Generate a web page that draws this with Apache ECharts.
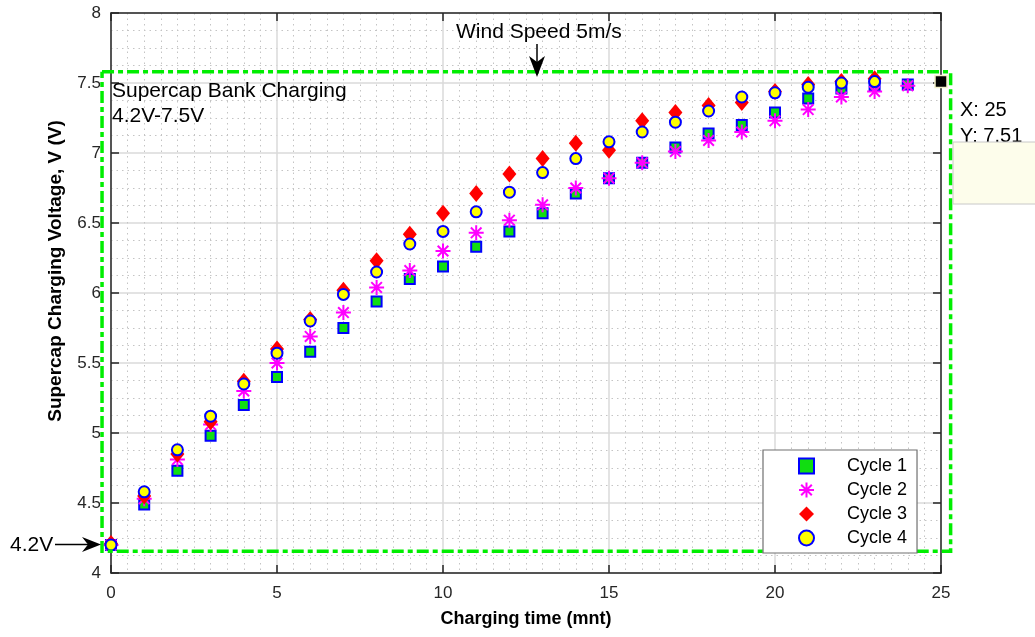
<!DOCTYPE html>
<html><head><meta charset="utf-8">
<script src="https://cdn.jsdelivr.net/npm/echarts@6/dist/echarts.min.js"></script>
<style>html,body{margin:0;padding:0;background:#fff}#c{width:1035px;height:637px}</style>
</head><body><div id="c"></div>
<script>
// ---- data ----
const timeMnt = [0,1,2,3,4,5,6,7,8,9,10,11,12,13,14,15,16,17,18,19,20,21,22,23,24];
const cycle1 = [4.20,4.49,4.73,4.98,5.20,5.40,5.58,5.75,5.94,6.10,6.19,6.33,6.44,6.57,6.71,6.82,6.93,7.04,7.14,7.20,7.29,7.39,7.46,7.48,7.49];
const cycle2 = [4.20,4.53,4.81,5.06,5.30,5.50,5.69,5.86,6.04,6.16,6.30,6.43,6.52,6.63,6.75,6.82,6.93,7.01,7.09,7.15,7.23,7.31,7.40,7.44,7.48];
const cycle3 = [4.21,4.55,4.85,5.08,5.37,5.60,5.81,6.02,6.23,6.42,6.57,6.71,6.85,6.96,7.07,7.02,7.23,7.29,7.34,7.36,7.44,7.49,7.51,7.53];
const cycle4 = [4.20,4.58,4.88,5.12,5.35,5.57,5.80,5.99,6.15,6.35,6.44,6.58,6.72,6.86,6.96,7.08,7.15,7.22,7.30,7.40,7.43,7.47,7.50,7.51];
const seriesNames = ['Cycle 1','Cycle 2','Cycle 3','Cycle 4'];
const dataTipPoint = [25, 7.51];
const boxX = [-0.27, 25.29, 25.29, -0.27, -0.27];
const boxY = [7.58, 7.58, 4.155, 4.155, 7.58];
const xTickMin = 0, xTickMax = 25, xTickStep = 5;
const yTickMin = 4, yTickMax = 8, yTickStep = 0.5;

const pair = (xs, ys) => ys.map((v, i) => [xs[i], v]);
const FONT = '"Liberation Sans", Arial, Helvetica, sans-serif';
const AX = '#262626';
const asterisk = 'path://M0,-8L0,8M-8,0L8,0M-5.66,-5.66L5.66,5.66M-5.66,5.66L5.66,-5.66';

const chart = echarts.init(document.getElementById('c'), null, {renderer: 'canvas'});
const axisCommon = {
  axisLine: {show: true, onZero: false, lineStyle: {color: AX, width: 1.5}},
  axisTick: {show: true, inside: true, length: 8, lineStyle: {color: AX, width: 1.5}},
};
const staticGraphics = [
  {type: 'text', x: 456, y: 32, z: 20, style: {text: 'Wind Speed 5m/s', font: '21px ' + FONT, fill: '#000', verticalAlign: 'middle'}},
  {type: 'line', z: 20, shape: {x1: 537, y1: 44, x2: 537, y2: 66}, style: {stroke: '#000', lineWidth: 1.5}},
  {type: 'polygon', z: 20, shape: {points: [[537, 77], [529, 56], [537, 62], [545, 56]]}, style: {fill: '#000'}},
  {type: 'text', x: 112, y: 78.5, z: 20, style: {text: 'Supercap Bank Charging\n4.2V-7.5V', font: '21px ' + FONT, lineHeight: 25, fill: '#000', verticalAlign: 'top'}},
  {type: 'text', x: 10, y: 545, z: 20, style: {text: '4.2V', font: '21px ' + FONT, fill: '#000', verticalAlign: 'middle'}},
  {type: 'line', z: 20, shape: {x1: 55, y1: 544.5, x2: 90, y2: 544.5}, style: {stroke: '#000', lineWidth: 1.5}},
  {type: 'polygon', z: 20, shape: {points: [[101, 544.5], [82, 537], [88, 544.5], [82, 552]]}, style: {fill: '#000'}},
  {type: 'text', x: 960, y: 110, z: 20, style: {text: 'X: 25', font: '20px ' + FONT, fill: '#000', verticalAlign: 'middle'}},
  {type: 'text', x: 960, y: 136, z: 20, style: {text: 'Y: 7.51', font: '20px ' + FONT, fill: '#000', verticalAlign: 'middle'}},
  {type: 'rect', z: 21, shape: {x: 953, y: 142, width: 90, height: 62}, style: {fill: '#fdfdeb', stroke: '#c8c8c8', lineWidth: 1}}
];
chart.setOption({
  animation: false,
  backgroundColor: '#fff',
  grid: {left: 111, right: 94, top: 13, bottom: 64},
  xAxis: [{
    type: 'value', min: xTickMin, max: xTickMax, interval: xTickStep,
    ...axisCommon,
    axisLabel: {color: AX, fontSize: 17, fontFamily: FONT, margin: 12},
    splitLine: {show: true, lineStyle: {color: '#dadada', width: 1.5}},
    minorTick: {show: false, splitNumber: 10},
    minorSplitLine: {show: true, lineStyle: {color: '#c4c4c4', width: 1, type: [1.5, 4]}},
    name: 'Charging time (mnt)', nameLocation: 'middle', nameGap: 37,
    nameTextStyle: {color: '#000', fontSize: 18, fontWeight: 'bold', fontFamily: FONT}
  }, {
    type: 'value', position: 'top', min: xTickMin, max: xTickMax, interval: xTickStep,
    ...axisCommon, axisLabel: {show: false}, splitLine: {show: false}
  }],
  yAxis: [{
    type: 'value', min: yTickMin, max: yTickMax, interval: yTickStep,
    ...axisCommon,
    axisLabel: {color: AX, fontSize: 17, fontFamily: FONT, margin: 10},
    splitLine: {show: true, lineStyle: {color: '#dadada', width: 1.5}},
    minorTick: {show: false, splitNumber: 4},
    minorSplitLine: {show: true, lineStyle: {color: '#c4c4c4', width: 1, type: [1.5, 4]}},
    name: 'Supercap Charging Voltage, V (V)', nameLocation: 'middle', nameGap: 46, nameRotate: 90,
    nameTextStyle: {color: '#000', fontSize: 19, fontWeight: 'bold', fontFamily: FONT, padding: [0, 0, 0, 44]}
  }, {
    type: 'value', position: 'right', min: yTickMin, max: yTickMax, interval: yTickStep,
    ...axisCommon, axisLabel: {show: false}, splitLine: {show: false}
  }],
  legend: {
    orient: 'vertical', left: 763, top: 450,
    data: seriesNames,
    itemWidth: 15, itemHeight: 15, itemGap: 6,
    padding: [7, 10, 6, 35],
    backgroundColor: '#fff', borderColor: '#707070', borderWidth: 1.2, borderRadius: 0,
    textStyle: {color: '#000', fontSize: 18, fontFamily: FONT, padding: [0, 0, 0, 28]}
  },
  series: [
    {type: 'scatter', name: seriesNames[0], data: pair(timeMnt, cycle1), symbol: 'rect', symbolSize: 10,
     itemStyle: {color: '#11dd11', borderColor: '#0000ff', borderWidth: 2, opacity: 1}},
    {type: 'scatter', name: seriesNames[1], data: pair(timeMnt, cycle2), symbol: asterisk, symbolSize: 15,
     itemStyle: {color: '#ff00ff', borderColor: '#ff00ff', borderWidth: 2, opacity: 1}},
    {type: 'scatter', name: seriesNames[2], data: pair(timeMnt, cycle3), symbol: 'diamond', symbolSize: [14, 17],
     itemStyle: {color: '#ff0000', opacity: 1}},
    {type: 'scatter', name: seriesNames[3], data: pair(timeMnt, cycle4), symbol: 'circle', symbolSize: 11,
     itemStyle: {color: '#ffff00', borderColor: '#0000ff', borderWidth: 2, opacity: 1}},
    {type: 'scatter', name: 'datatip', data: [dataTipPoint], symbol: 'rect', symbolSize: 12, clip: false, z: 5,
     itemStyle: {color: '#000', borderColor: '#f2f0c8', borderWidth: 1.5, opacity: 1}}
  ],
  graphic: staticGraphics
});
// dashed selection box, positioned through the chart's own coordinate conversion
const boxPts = boxX.map((x, i) => chart.convertToPixel({gridIndex: 0}, [x, boxY[i]]));
chart.setOption({
  graphic: staticGraphics.concat([{
    type: 'polyline', z: 3, shape: {points: boxPts},
    style: {stroke: '#00ee00', lineWidth: 3.5, fill: null, lineDash: [12, 4, 5, 4]}
  }])
});
</script></body></html>
